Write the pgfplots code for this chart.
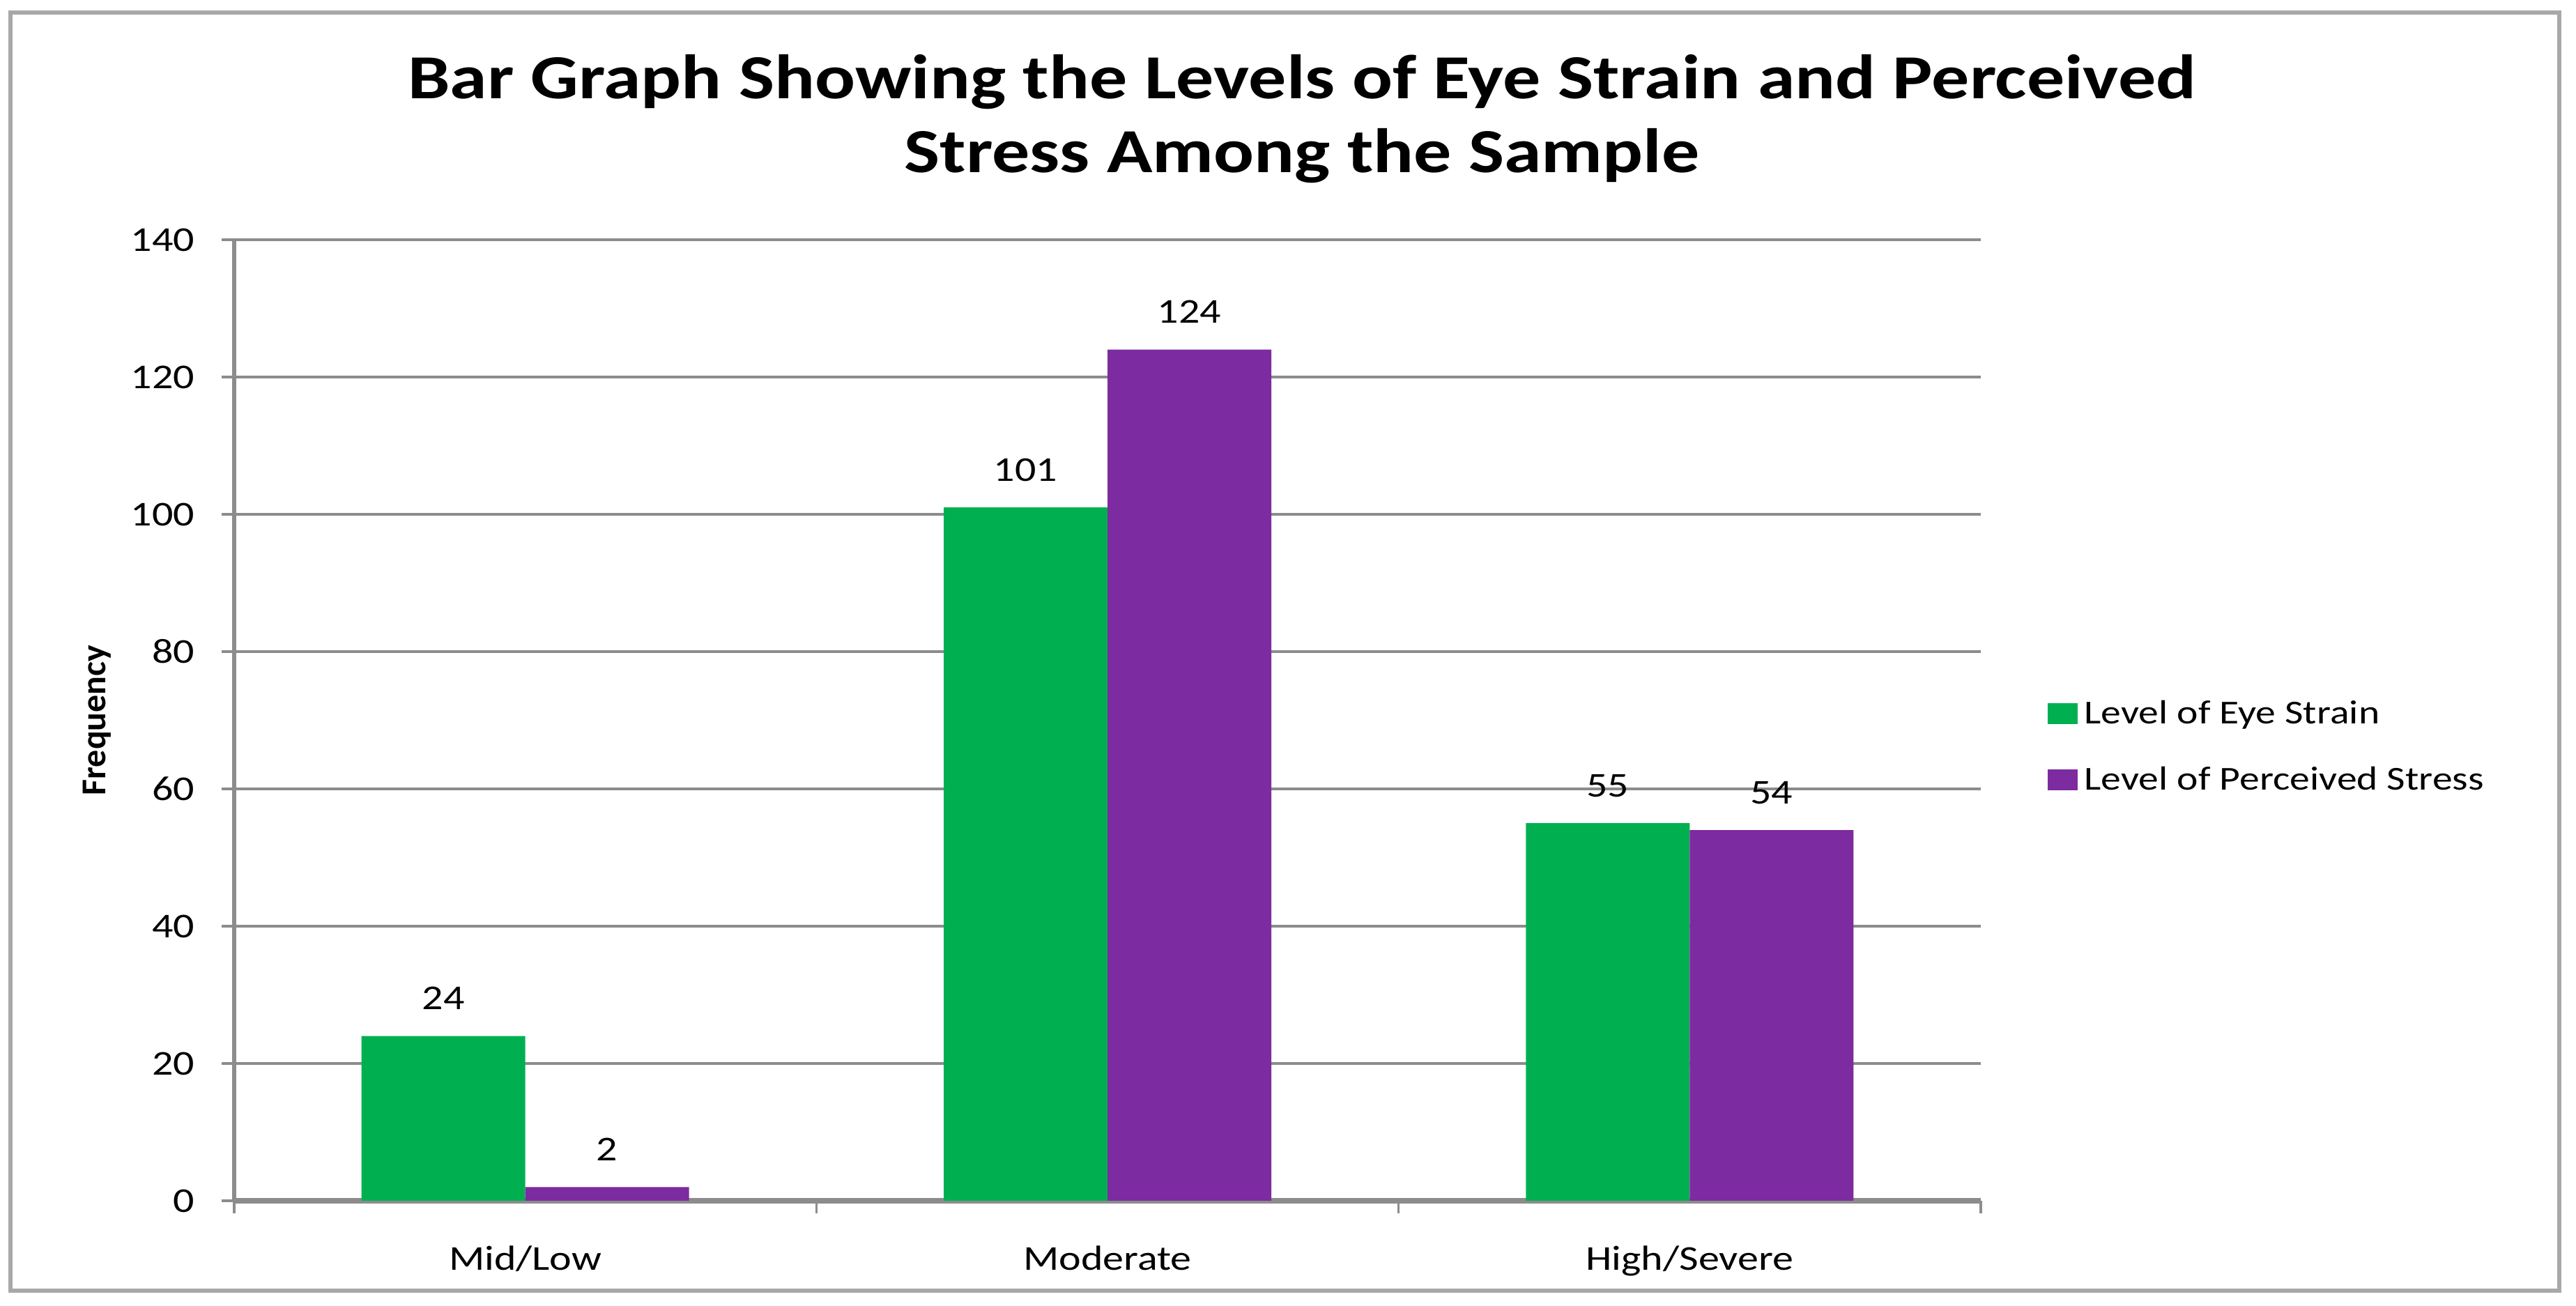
\documentclass[border=0pt]{standalone}
\usepackage{fontspec}
\setmainfont{Carlito}[FakeStretch=1.2]
\newfontfamily\plainfont{Carlito}
\usepackage{pgfplots}
\pgfplotsset{compat=1.18}
\definecolor{exgreen}{HTML}{00B050}
\definecolor{expurple}{HTML}{7D2BA0}
\definecolor{gridgray}{HTML}{8C8C8C}
\definecolor{framegray}{HTML}{A8A8A8}
\begin{document}
\begin{tikzpicture}
\path[use as bounding box] (-84pt,-37.75pt) rectangle (840pt,430.75pt);
\begin{axis}[
  scale only axis, width=626.5pt, height=344.75pt,
  ybar=0pt, bar width=58.75pt,
  xmin=-0.5, xmax=2.5, ymin=0, ymax=140,
  axis x line*=bottom, axis y line*=left,
  x axis line style={gridgray, line width=1.8pt},
  y axis line style={gridgray, line width=1.5pt},
  xtick={0,1,2}, xticklabels={Mid/Low,Moderate,High/Severe},
  major x tick style={draw=none},
  extra x ticks={-0.5,0.5,1.5,2.5}, extra x tick labels={},
  extra x tick style={grid=none, major tick length=4.5pt, tick align=outside,
     major x tick style={draw=gridgray, line width=0.9pt}},
  ytick={0,20,...,140},
  ymajorgrids, grid style={gridgray, line width=0.9pt},
  tick align=outside, major tick length=4.5pt,
  ytick style={draw=gridgray, line width=0.9pt},
  /pgf/number format/assume math mode=true,
  ticklabel style={font=\fontsize{12.5}{15}\selectfont, text=black},
  yticklabel style={anchor=east, xshift=-9.5pt, inner sep=0pt},
  xticklabel style={anchor=base, yshift=-20.5pt, inner sep=0pt},
  ylabel={\plainfont\bfseries\fontsize{12.5}{15}\selectfont Frequency},
  ylabel style={at={(axis description cs:-0.0786,0.5)}, anchor=center, inner sep=0pt},
  nodes near coords, point meta=y,
  nodes near coords style={font=\fontsize{12.5}{15}\selectfont, anchor=base, yshift=9.5pt, inner sep=0pt, text=black},
  every axis plot post/.append style={legend image code/.code={\fill[#1,draw=none] (0pt,0pt) rectangle (10.75pt,7.5pt);}},
  legend style={at={(rel axis cs:1.0379,0.52)}, anchor=north west, draw=none, fill=none, inner sep=0pt,
     font=\fontsize{12}{14}\selectfont, row sep=13.75pt, column sep=2.5pt,
     nodes={inner sep=0pt, text height=8pt, text depth=2pt, anchor=base west}},
  legend cell align=left,
]
\addplot[fill=exgreen, draw=none] coordinates {(0,24) (1,101) (2,55)};
\addplot[fill=expurple, draw=none] coordinates {(0,2) (1,124) (2,54)};
\legend{Level of Eye Strain, Level of Perceived Stress}
\end{axis}
\node[anchor=base, font=\bfseries\fontsize{22.5}{27}\selectfont] at (383pt,395.25pt) {Bar Graph Showing the Levels of Eye Strain and Perceived};
\node[anchor=base, font=\bfseries\fontsize{22.5}{27}\selectfont] at (383pt,368.75pt) {Stress Among the Sample};
\draw[framegray, line width=1.5pt] (-80.25pt,-32.25pt) rectangle (834pt,426.25pt);
\end{tikzpicture}
\end{document}
